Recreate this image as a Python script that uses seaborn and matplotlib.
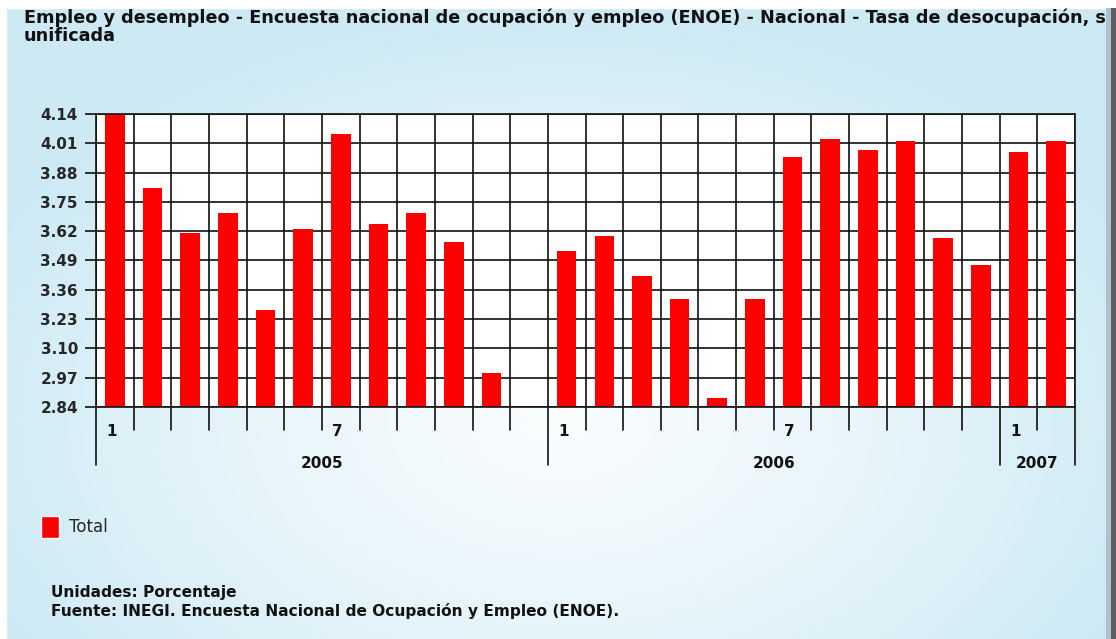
import numpy as np
import pandas as pd
import matplotlib
matplotlib.use("Agg")
import matplotlib.pyplot as plt
import matplotlib.transforms as mtrans
from matplotlib.patches import Patch, Rectangle
import seaborn as sns

# ---------------- data ----------------
years = [2005] * 12 + [2006] * 12 + [2007] * 2
months = list(range(1, 13)) + list(range(1, 13)) + [1, 2]
values = [4.14, 3.81, 3.61, 3.70, 3.27, 3.63, 4.05, 3.65, 3.70, 3.57, 2.99, np.nan,
          3.53, 3.60, 3.42, 3.32, 2.88, 3.32, 3.95, 4.03, 3.98, 4.02, 3.59, 3.47,
          3.97, 4.02]
yticks = [2.84, 2.97, 3.10, 3.23, 3.36, 3.49, 3.62, 3.75, 3.88, 4.01, 4.14]
shown_months = [1, 7]
series_name = "Total"
title_1 = ("Empleo y desempleo - Encuesta nacional de ocupación y empleo (ENOE) - "
           "Nacional - Tasa de desocupación, serie")
title_2 = "unificada"
footer_1 = "Unidades: Porcentaje"
footer_2 = "Fuente: INEGI. Encuesta Nacional de Ocupación y Empleo (ENOE)."

periods = [f"{y}-{m:02d}" for y, m in zip(years, months)]
df = pd.DataFrame({"periodo": periods, "valor": values})

W, H = 1116, 639
sns.set_theme(style="white")
plt.rcParams["font.family"] = ["DejaVu Sans"]

fig = plt.figure(figsize=(W / 100, H / 100), dpi=100)

# ---------------- background gradient ----------------
bg = fig.add_axes([0, 0, 1, 1], zorder=-10)
yy, xx = np.mgrid[0:H, 0:W]
d = np.sqrt(((xx - 560) / 640.0) ** 2 + ((yy - 420) / 420.0) ** 2)
t = np.clip(d, 0, 1) ** 1.3
c_in = np.array([0.975, 0.99, 0.995])
c_out = np.array([0.80, 0.915, 0.96])
img = c_in[None, None, :] * (1 - t[..., None]) + c_out[None, None, :] * t[..., None]
bg.imshow(img, extent=[0, W, H, 0], aspect="auto")
bg.add_patch(Rectangle((0, 0), W, 8, color="white"))
bg.add_patch(Rectangle((0, 0), 6, H, color="white"))
bg.set_xlim(0, W)
bg.set_ylim(H, 0)
bg.axis("off")

# right-hand shadow strip drawn above everything (clips the long title)
fig.add_artist(Rectangle((1106 / W, 0), 5 / W, 1 - 8 / H, transform=fig.transFigure,
                         color="#a9c4cf", zorder=99, lw=0))
fig.add_artist(Rectangle((1111 / W, 0), 5 / W, 1 - 8 / H, transform=fig.transFigure,
                         color="#5e5e5e", zorder=100, lw=0))
fig.add_artist(Rectangle((1106 / W, 1 - 8 / H), 10 / W, 8 / H, transform=fig.transFigure,
                         color="white", zorder=100, lw=0))

# ---------------- main axes ----------------
L, R, T, B = 96, 1075, 114, 407
ax = fig.add_axes([L / W, 1 - B / H, (R - L) / W, (B - T) / H])
ax.set_facecolor("white")
sns.barplot(data=df, x="periodo", y="valor", order=periods, color="#ff0000",
            saturation=1, width=0.52, edgecolor="none", ax=ax, errorbar=None)
ax.set_xlim(-0.5, len(periods) - 0.5)
ax.set_ylim(yticks[0], yticks[-1])
ax.set_axisbelow(True)
ax.set_xlabel("")
ax.set_ylabel("")

ax.set_yticks(yticks)
ax.set_yticklabels([f"{v:.2f}" for v in yticks], fontweight="bold", fontsize=11)
ax.yaxis.grid(True, color="#111111", lw=1.2)
ax.set_xticks(np.arange(-0.5, len(periods), 1.0), minor=True)
ax.set_xticks([])
ax.xaxis.grid(True, which="minor", color="#111111", lw=1.2)
ax.tick_params(axis="y", which="major", length=8, width=1.2, color="#111111",
               direction="out", pad=5, left=True)
ax.tick_params(axis="x", which="both", length=0)
for s in ax.spines.values():
    s.set_color("#111111")
    s.set_linewidth(1.2)

# ---------------- category axis below ----------------
trans = mtrans.blended_transform_factory(ax.transData, ax.transAxes)
ph = B - T
short = -23 / ph
long_ = -58 / ph
for i in range(len(periods) + 1):
    xb = i - 0.5
    is_year = i == 0 or i == len(periods) or years[i] != years[i - 1]
    ax.plot([xb, xb], [0, long_ if is_year else short], color="#111111",
            lw=1.2, transform=trans, clip_on=False)
for i, (y, m) in enumerate(zip(years, months)):
    if m in shown_months:
        ax.text(i - 0.08, -25 / ph, str(m), transform=trans, ha="center", va="center",
                fontsize=11, fontweight="bold", color="#111111")
for y in sorted(set(years)):
    idx = [i for i, yy_ in enumerate(years) if yy_ == y]
    ax.text((idx[0] + idx[-1]) / 2, -57 / ph, str(y), transform=trans,
            ha="center", va="center", fontsize=11, fontweight="bold", color="#111111")

# ---------------- texts ----------------
fig.text(24 / W, 1 - 18 / H, title_1, fontsize=12.7, fontweight="bold",
         va="center", ha="left", color="#111111")
fig.text(24 / W, 1 - 36 / H, title_2, fontsize=12.7, fontweight="bold",
         va="center", ha="left", color="#111111")

fig.legend(handles=[Patch(facecolor="#ff0000", label=series_name)],
           loc="center left", bbox_to_anchor=(26 / W, 1 - 527 / H), frameon=False,
           handlelength=1.1, handleheight=1.7, handletextpad=0.6, fontsize=12)

fig.text(51 / W, 1 - 592 / H, footer_1, fontsize=11.1, fontweight="bold",
         va="center", ha="left", color="#111111")
fig.text(51 / W, 1 - 611 / H, footer_2, fontsize=11.1, fontweight="bold",
         va="center", ha="left", color="#111111")

fig.savefig("out.png", dpi=100)
